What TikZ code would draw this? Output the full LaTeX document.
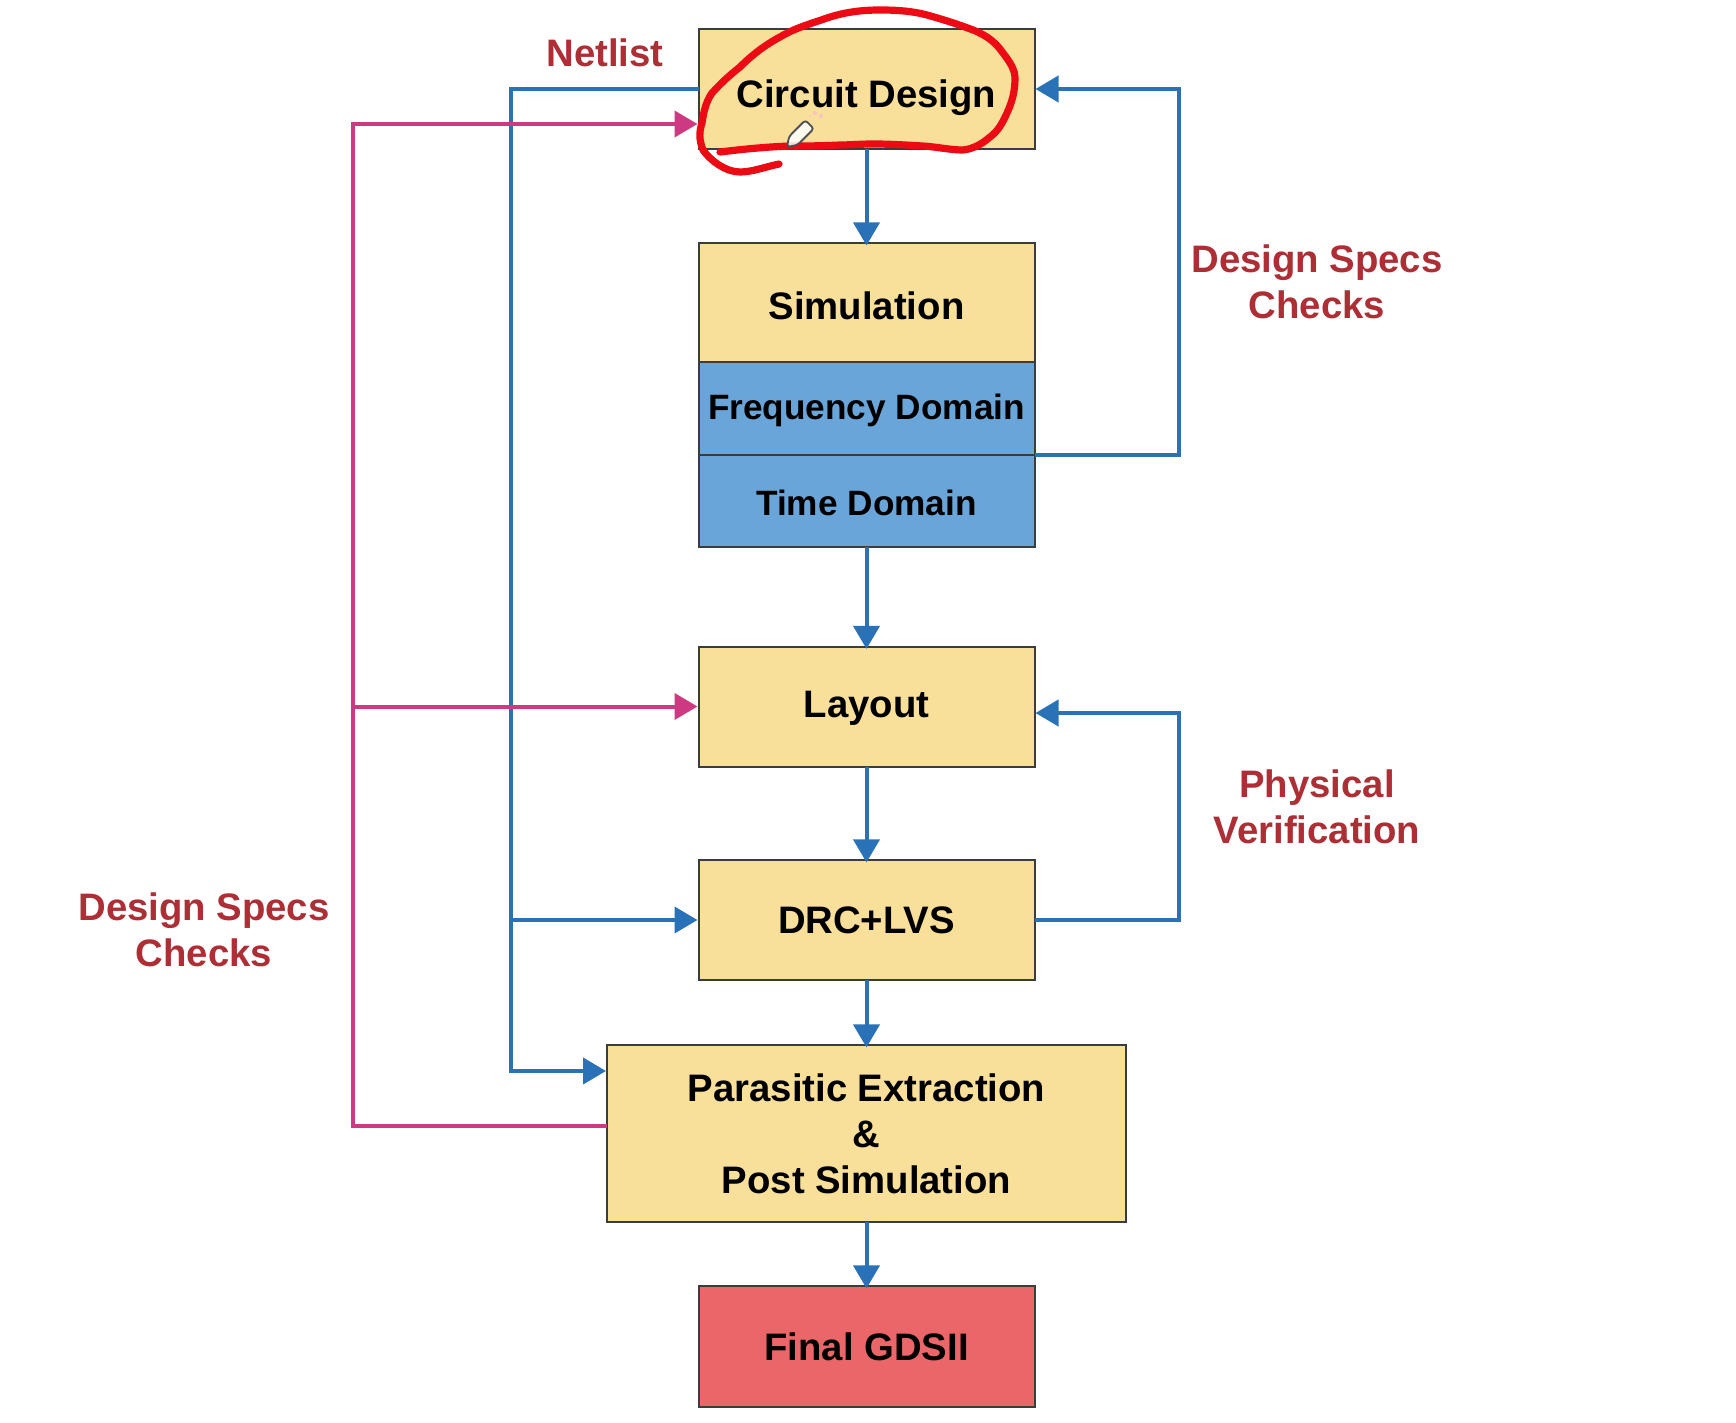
\documentclass[tikz,border=0pt]{standalone}
\usepackage{fontspec}
\setmainfont{Liberation Sans}
\usetikzlibrary{arrows.meta}
\definecolor{boxyellow}{HTML}{F8DF9A}
\definecolor{boxblue}{HTML}{6AA5D9}
\definecolor{boxred}{HTML}{EB6668}
\definecolor{labelred}{HTML}{AE2E35}
\definecolor{lineblue}{HTML}{2A72B8}
\definecolor{linepink}{HTML}{CE3A82}
\definecolor{edge}{HTML}{3A3D3E}
\definecolor{inkred}{HTML}{EC0A14}
\newcommand{\nudge}[2]{\raisebox{#1}[\height][\depth]{#2}}
\tikzset{
  flowbox/.style={draw=edge,line width=1pt,inner sep=0pt,outer sep=0pt,align=center,font=\fontsize{19.15}{23}\selectfont\bfseries,text=black,fill=boxyellow},
  domainbox/.style={flowbox,fill=boxblue,font=\fontsize{17.6}{23}\selectfont\bfseries},
  tag/.style={align=center,text=labelred,font=\fontsize{19.15}{23}\selectfont\bfseries},
  bluelink/.style={draw=lineblue,line width=2pt,-{Triangle[length=11.5pt,width=13pt]},shorten >=0.5pt},
  downlink/.style={bluelink,shorten >=-1.2pt},
  pinklink/.style={draw=linepink,line width=2pt,-{Triangle[length=11.5pt,width=13pt]},shorten >=0.5pt},
  ink/.style={draw=inkred,line width=3.6pt,line cap=round,line join=round}
}
\begin{document}
\begin{tikzpicture}[x=0.5pt,y=-0.5pt]
\useasboundingbox[fill=white] (0,0) rectangle (1736,1423);
% boxes
\node[flowbox,minimum width=168pt,minimum height=60pt] (circuit) at (866.5,89) {\nudge{-4.5pt}{Circuit Design}};
\node[flowbox,minimum width=168pt,minimum height=59.5pt] (sim) at (866.5,302.5) {\nudge{-1.5pt}{Simulation}};
\node[domainbox,minimum width=168pt,minimum height=46.5pt] (freq) at (866.5,408.5) {\nudge{-1pt}{Frequency Domain}};
\node[domainbox,minimum width=168pt,minimum height=46pt] (time) at (866.5,501) {\nudge{-1pt}{Time Domain}};
\node[flowbox,minimum width=168pt,minimum height=60pt] (layout) at (866.5,706.5) {\nudge{-1pt}{Layout}};
\node[flowbox,minimum width=168pt,minimum height=60pt] (drc) at (866.5,920) {DRC+LVS};
\node[flowbox,minimum width=259.5pt,minimum height=88.5pt] (para) at (866.5,1133.5) {Parasitic Extraction\\\&\\Post Simulation};
\node[flowbox,fill=boxred,minimum width=168pt,minimum height=60.5pt] (final) at (866.5,1346.5) {Final GDSII};
% routing points
\coordinate (bluebus) at (511,89);
\coordinate (pinkbus) at (353,1126);
\coordinate (rightA) at (1179,455);
\coordinate (rightB) at (1179,920);
\coordinate (simout) at (freq.south east);
\coordinate (circuitpink) at (circuit.west |- 0,124);
\coordinate (parablue) at (para.west |- 0,1071);
\coordinate (parapink) at (para.west |- 0,1126);
\coordinate (layoutin) at (layout.east |- 0,713);
% vertical flow
\draw[downlink] (circuit) -- (sim);
\draw[downlink] (time) -- (layout);
\draw[downlink] (layout) -- (drc);
\draw[downlink] (drc) -- (para);
\draw[downlink] (para) -- (final);
% blue bus
\draw[bluelink] (circuit.west) -- (bluebus) |- (parablue);
\draw[bluelink] (bluebus |- drc.west) -- (drc.west);
% pink bus
\draw[pinklink] (parapink) -- (pinkbus) |- (circuitpink);
\draw[pinklink] (pinkbus |- layout.west) -- (layout.west);
% right loops
\draw[bluelink] (simout) -- (rightA) |- (circuit.east);
\draw[bluelink] (drc.east) -- (rightB) |- (layoutin);
% labels
\node[tag] (netlist) at (605,53) {Netlist};
\node[tag] (specsR) at (1317,282) {Design Specs\\Checks};
\node[tag] (phys) at (1317,807) {Physical\\Verification};
\node[tag] (specsL) at (204,930) {Design Specs\\Checks};
% hand-drawn circle
\draw[ink] (779,164) .. controls (765,167) and (752,172) .. (740,172)
  .. controls (725,172) and (710,160) .. (703,150)
  .. controls (699,140) and (699,132) .. (702,123)
  .. controls (704,110) and (706,102) .. (712,93)
  .. controls (722,82) and (730,75) .. (740,67)
  .. controls (752,55) and (765,45) .. (780,37)
  .. controls (795,28) and (810,24) .. (827,18)
  .. controls (845,12) and (862,10) .. (880,10)
  .. controls (897,10) and (912,11) .. (927,15)
  .. controls (945,20) and (960,25) .. (973,30)
  .. controls (988,36) and (996,43) .. (1003,53)
  .. controls (1010,62) and (1015,70) .. (1015,78)
  .. controls (1015,92) and (1012,102) .. (1007,113)
  .. controls (1002,124) and (998,131) .. (990,137)
  .. controls (982,144) and (973,149) .. (963,150)
  .. controls (950,150) and (938,147) .. (923,146)
  .. controls (905,145) and (890,144) .. (873,144)
  .. controls (860,144) and (850,145) .. (840,145)
  .. controls (820,146) and (805,146) .. (790,146)
  .. controls (765,147) and (745,149) .. (720,152);
% pencil cursor
\begin{scope}[shift={(799,135)},rotate=225]
  \draw[edge!90,fill=white,fill opacity=0.85,line width=0.9pt,rounded corners=1.5pt] (-15,-6) -- (8,-6) -- (17,0) -- (8,6) -- (-15,6) -- cycle;
\end{scope}
\fill[inkred!25] (815,113) circle (2) (821,116) circle (2) (810,116) circle (1.2);
\end{tikzpicture}
\end{document}
